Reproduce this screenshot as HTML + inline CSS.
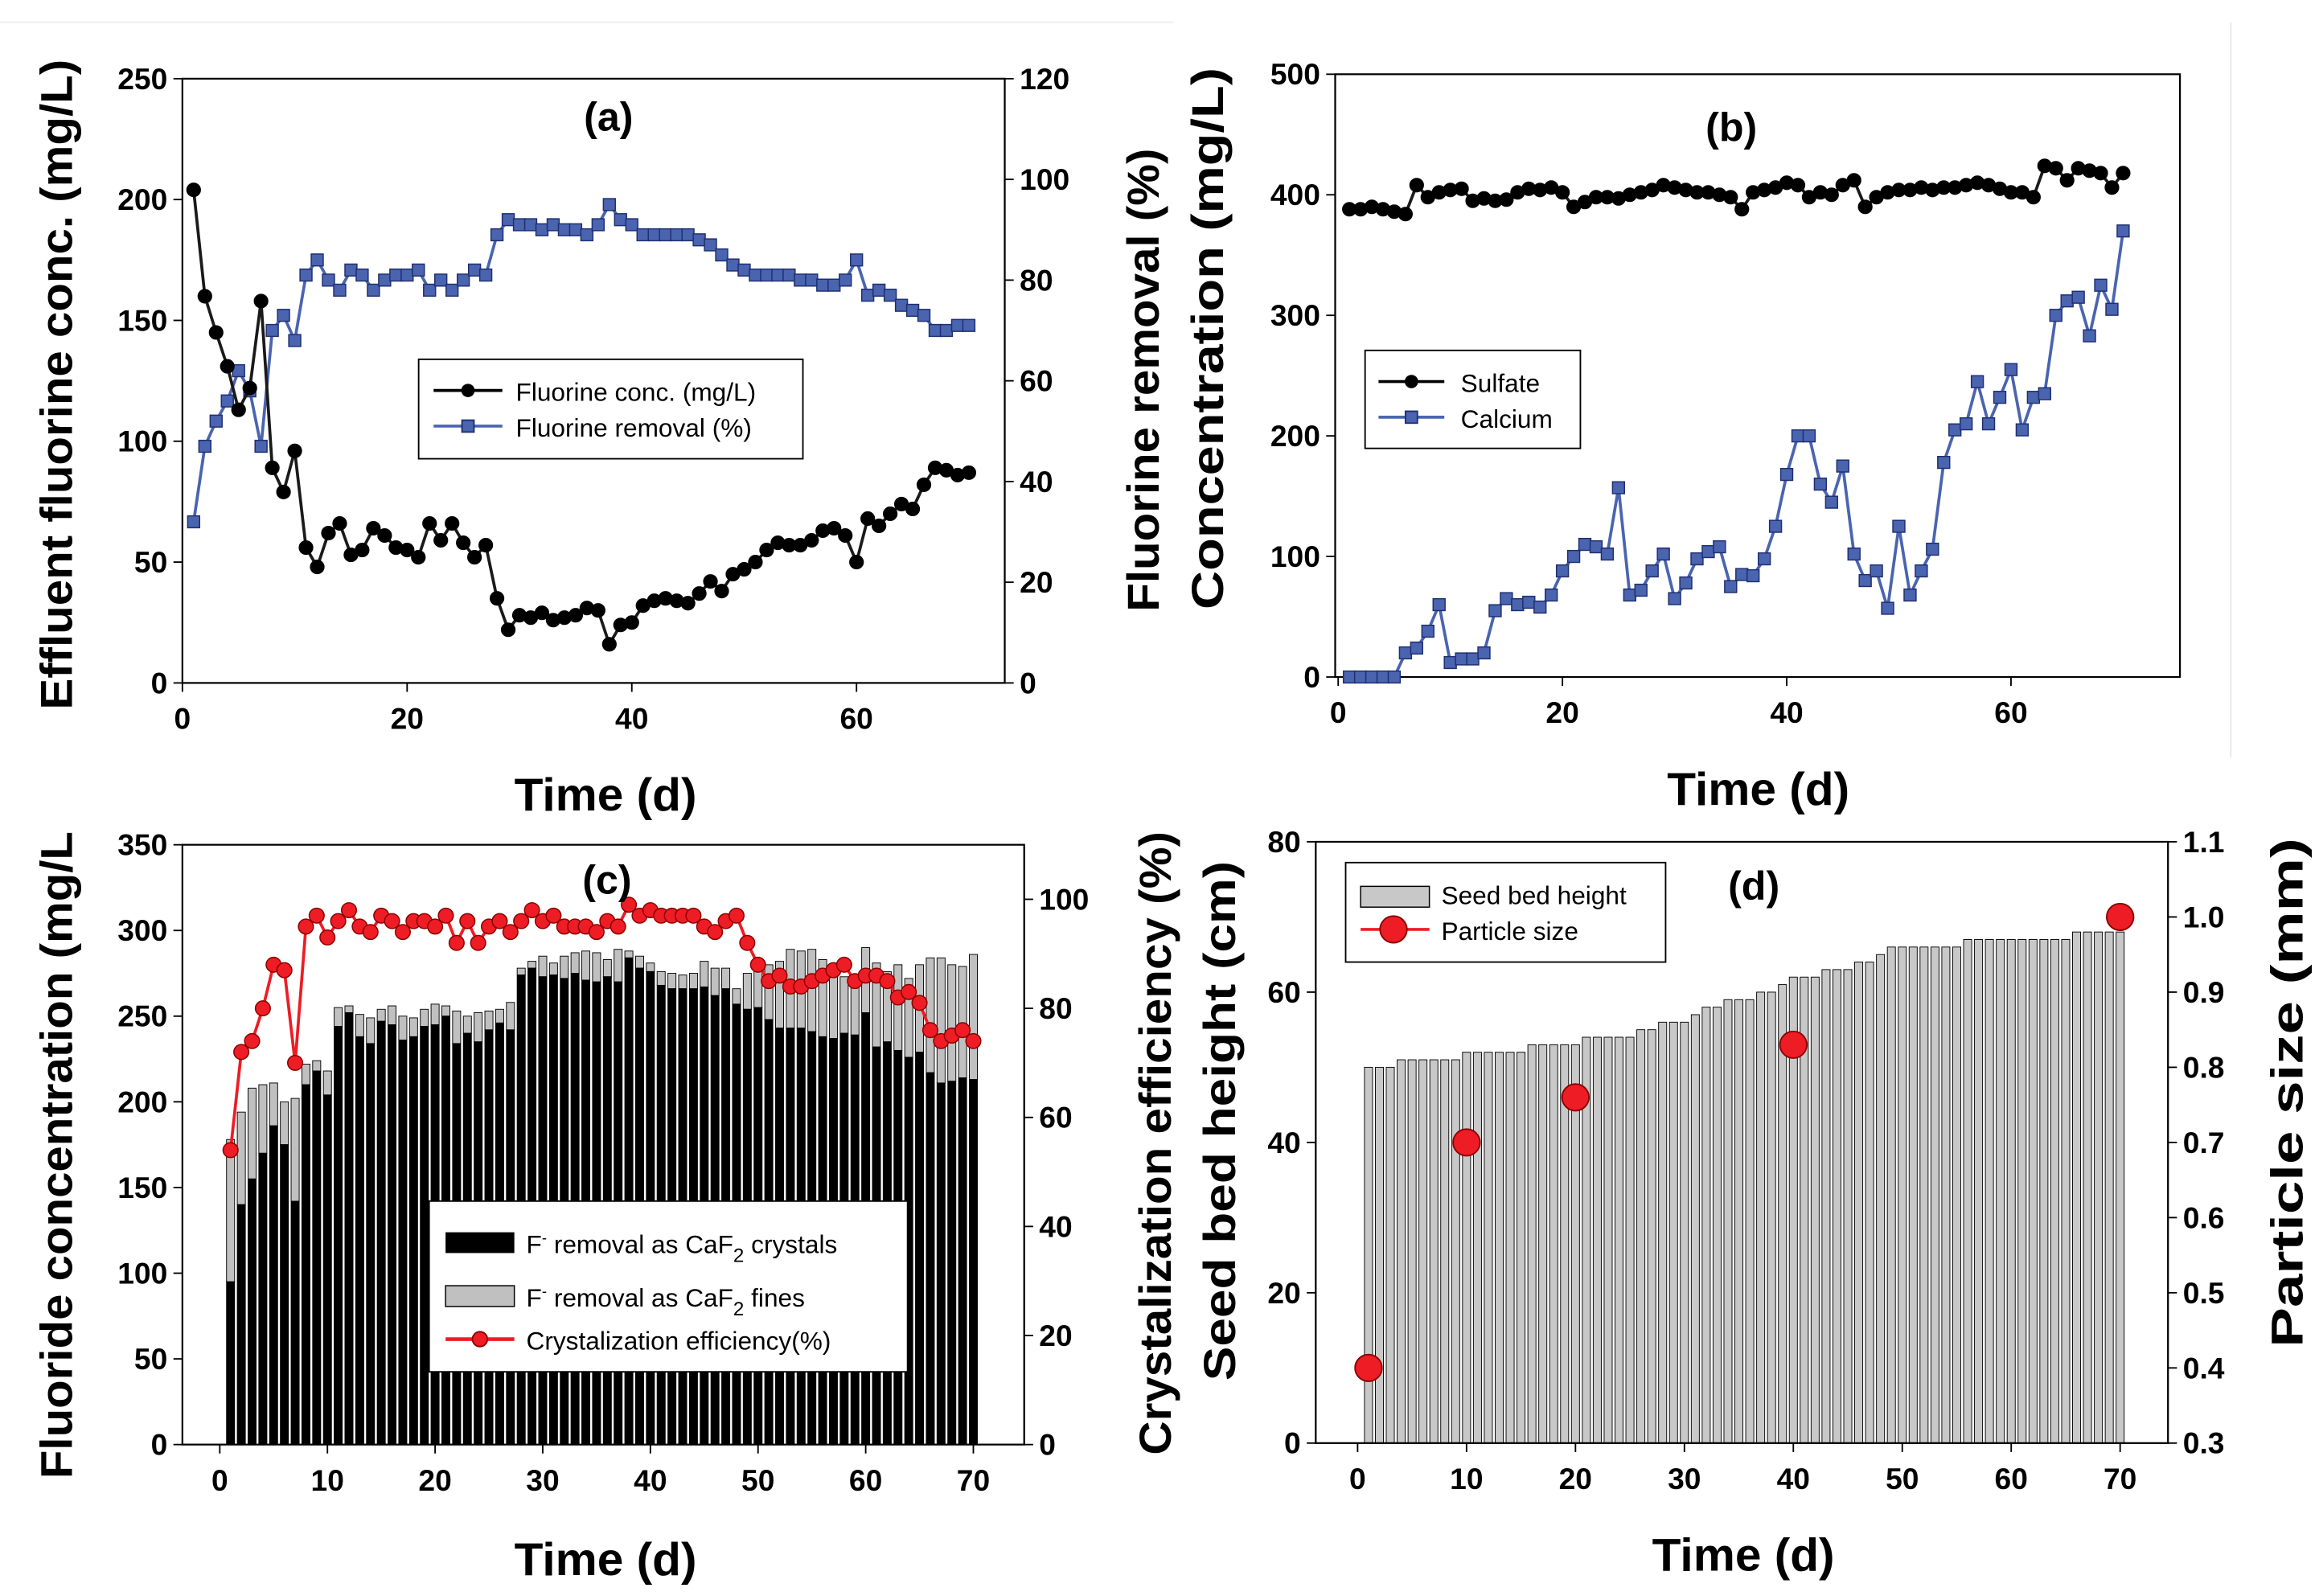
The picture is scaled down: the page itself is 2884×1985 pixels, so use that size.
<!DOCTYPE html>
<html><head><meta charset="utf-8">
<style>
html,body{margin:0;padding:0;background:#fff;}
svg{display:block;font-family:"Liberation Sans",Arial,sans-serif;}
</style></head>
<body>
<svg id="fig" width="2884" height="1985" viewBox="0 0 1551 1075" preserveAspectRatio="none" xmlns="http://www.w3.org/2000/svg">
<line x1="1492" y1="15" x2="1492" y2="510" stroke="#e6e6e6" stroke-width="1"/>
<line x1="0" y1="15" x2="785" y2="15" stroke="#eeeeee" stroke-width="1"/>
</svg>
<script>
const days = Array.from({length:70},(_,i)=>i+1);
// Panel (a)
const fluorConc = [204,160,145,131,113,122,158,89,79,96,56,48,62,66,53,55,64,61,56,55,52,66,59,66,58,52,57,35,22,28,27,29,26,27,28,31,30,16,24,25,32,34,35,34,33,37,42,38,45,47,50,55,58,57,57,59,63,64,61,50,68,65,70,74,72,82,89,88,86,87];
const fluorRemoval = [32,47,52,56,62,58,47,70,73,68,81,84,80,78,82,81,78,80,81,81,82,78,80,78,80,82,81,89,92,91,91,90,91,90,90,89,91,95,92,91,89,89,89,89,89,88,87,85,83,82,81,81,81,81,80,80,79,79,80,84,77,78,77,75,74,73,70,70,71,71];
// Panel (b)
const sulfate = [388,388,390,388,386,384,408,398,402,404,405,395,397,395,396,402,405,404,406,402,390,394,398,398,397,400,402,404,408,406,404,402,402,400,398,388,402,404,406,410,408,398,402,400,408,412,390,398,402,404,404,406,404,406,406,408,410,408,405,402,402,398,424,422,412,422,420,418,406,418];
const calcium = [0,0,0,0,0,20,24,38,60,12,15,15,20,55,65,60,62,58,68,88,100,110,108,102,157,68,72,88,102,65,78,98,104,108,75,85,84,98,125,168,200,200,160,145,175,102,80,88,57,125,68,88,106,178,205,210,245,210,232,255,205,232,235,300,312,315,283,325,305,370];
// Panel (c)
const totalF = [178,194,208,210,211,200,202,222,224,218,255,256,251,249,254,256,250,249,254,257,256,253,250,252,253,254,258,278,282,285,281,285,287,288,287,283,289,288,285,281,276,275,274,275,282,278,278,266,275,279,280,282,289,288,289,283,280,273,270,290,281,276,280,272,280,284,284,280,279,286];
const crystalF = [95,140,155,170,186,175,142,210,218,204,244,252,238,234,247,245,236,238,244,245,250,234,240,235,242,246,242,274,278,273,274,272,275,271,270,273,270,284,278,276,268,266,266,266,267,262,266,257,254,255,248,243,243,243,241,238,237,240,239,252,232,235,230,226,229,217,211,212,214,213];
const crystEff = [54,72,74,80,88,87,70,95,97,93,96,98,95,94,97,96,94,96,96,95,97,92,96,92,95,96,94,96,98,96,97,95,95,95,94,96,95,99,97,98,97,97,97,97,95,94,96,97,92,88,85,86,84,84,85,86,87,88,85,86,86,85,82,83,81,76,74,75,76,74];
// Panel (d)
const seedBed = [50,50,50,51,51,51,51,51,51,52,52,52,52,52,52,53,53,53,53,53,54,54,54,54,54,55,55,56,56,56,57,58,58,59,59,59,60,60,61,62,62,62,63,63,63,64,64,65,66,66,66,66,66,66,66,67,67,67,67,67,67,67,67,67,67,68,68,68,68,68];
const psDays = [1,10,20,40,70];
const psSize = [0.40,0.70,0.76,0.83,1.00];
const ticksA = [0,50,100,150,200,250], ticksAR=[0,20,40,60,80,100,120], ticksA_X=[0,20,40,60];
const ticksB = [0,100,200,300,400,500];
const ticksC = [0,50,100,150,200,250,300,350], ticksCR=[0,20,40,60,80,100], ticksX10=[0,10,20,30,40,50,60,70];
const ticksD = [0,20,40,60,80], ticksDR=[0.3,0.4,0.5,0.6,0.7,0.8,0.9,1.0,1.1];

const svg = document.getElementById('fig');
const NS='http://www.w3.org/2000/svg';
function mk(tag, attrs, parent){const e=document.createElementNS(NS,tag);for(const k in attrs)e.setAttribute(k,attrs[k]);(parent||svg).appendChild(e);return e;}
function txt(x,y,s,size,anchor,rot,parent,len){const e=mk('text',{x:x,y:y,'font-size':size,'font-weight':'bold','text-anchor':anchor||'middle'},parent);if(len){e.setAttribute('textLength',len);e.setAttribute('lengthAdjust','spacingAndGlyphs');}if(rot)e.setAttribute('transform',`rotate(${rot} ${x} ${y})`);e.textContent=s;return e;}
function lin(d0,d1,r0,r1){return v=>r0+(v-d0)*(r1-r0)/(d1-d0);}
function axisL(x,ys,ticks,fmt,g){ticks.forEach(t=>{mk('line',{x1:x-6,x2:x,y1:ys(t),y2:ys(t),stroke:'#000','stroke-width':1},g);const e=txt(x-10,ys(t)+7,fmt?fmt(t):t,20,'end',0,g);});}
function axisR(x,ys,ticks,fmt,g){ticks.forEach(t=>{mk('line',{x1:x,x2:x+6,y1:ys(t),y2:ys(t),stroke:'#000','stroke-width':1},g);const e=txt(x+10,ys(t)+7,fmt?fmt(t):t,20,'start',0,g);});}
function axisB(y,xs,ticks,g){ticks.forEach(t=>{mk('line',{x1:xs(t),x2:xs(t),y1:y,y2:y+6,stroke:'#000','stroke-width':1},g);const e=txt(xs(t),y+31,t,20,'middle',0,g);});}
function frame(x0,y0,x1,y1,g){mk('rect',{x:x0,y:y0,width:x1-x0,height:y1-y0,fill:'none',stroke:'#000','stroke-width':1.2},g);}
function poly(xs,ys,xv,yv,color,marker,g,name){
  const pts=xv.map((v,i)=>xs(v)+','+ys(yv[i])).join(' ');
  const l=mk('polyline',{points:pts,fill:'none',stroke:color,'stroke-width':2},g);
  
  
  xv.forEach((v,i)=>{let m;
    if(marker==='circle') m=mk('circle',{cx:xs(v),cy:ys(yv[i]),r:4.5,fill:'#000',stroke:'#000','stroke-width':0.8},g);
    else if(marker==='red') m=mk('circle',{cx:xs(v),cy:ys(yv[i]),r:5,fill:'#ee1c24',stroke:'#8a0000','stroke-width':0.8},g);
    else m=mk('rect',{x:xs(v)-4,y:ys(yv[i])-4,width:8,height:8,fill:'#4a64b0',stroke:'#1f2f70','stroke-width':0.8},g);
    
    
  });
}

// ---------- Panel a ----------
{const g=mk('g',{});
const xs=lin(0,70,122,648), ys=lin(0,250,460,53), yr=lin(0,120,460,53);
frame(122,53,672,460,g);
axisL(122,ys,ticksA,null,g);axisR(672,yr,ticksAR,null,g);axisB(460,xs,ticksA_X,g);
poly(xs,yr,days,fluorRemoval,'#4a64b0','square',g,'fluorine-removal');
poly(xs,ys,days,fluorConc,'#1a1a1a','circle',g,'fluorine-conc');
let t=txt(407,88,'(a)',27,'middle',0,g);
t=txt(405,546,'Time (d)',31,'middle',0,g,122);
t=txt(48,259,'Effluent fluorine conc. (mg/L)',30,'middle',-90,g,438);
t=txt(775,256,'Fluorine removal (%)',30,'middle',-90,g,312);
const lg=mk('g',{},g);
mk('rect',{x:280,y:242,width:257,height:67,fill:'#fff',stroke:'#000','stroke-width':1},lg);
mk('line',{x1:290,x2:336,y1:263,y2:263,stroke:'#000','stroke-width':2},lg);mk('circle',{cx:313,cy:263,r:4.5,fill:'#000'},lg);
mk('line',{x1:290,x2:336,y1:287,y2:287,stroke:'#4a64b0','stroke-width':2},lg);mk('rect',{x:309,y:283,width:8,height:8,fill:'#4a64b0',stroke:'#1f2f70'},lg);
let e=mk('text',{x:345,y:270,'font-size':17},lg);e.textContent='Fluorine conc. (mg/L)';
e=mk('text',{x:345,y:294,'font-size':17},lg);e.textContent='Fluorine removal (%)';}

// ---------- Panel b ----------
{const g=mk('g',{});
const xs=lin(0,70,895,1420), ys=lin(0,500,456,50);
frame(893,50,1458,456,g);
axisL(893,ys,ticksB,null,g);axisB(456,xs,ticksA_X,g);
poly(xs,ys,days,calcium,'#4a64b0','square',g,'calcium');
poly(xs,ys,days,sulfate,'#1a1a1a','circle',g,'sulfate');
let t=txt(1158,95,'(b)',27,'middle',0,g);
t=txt(1176,542,'Time (d)',31,'middle',0,g,122);
t=txt(818,228,'Concentration (mg/L)',30,'middle',-90,g,365);
const lg=mk('g',{},g);
mk('rect',{x:913,y:236,width:144,height:66,fill:'#fff',stroke:'#000','stroke-width':1},lg);
mk('line',{x1:922,x2:966,y1:257,y2:257,stroke:'#000','stroke-width':2},lg);mk('circle',{cx:944,cy:257,r:4.5,fill:'#000'},lg);
mk('line',{x1:922,x2:966,y1:281,y2:281,stroke:'#4a64b0','stroke-width':2},lg);mk('rect',{x:940,y:277,width:8,height:8,fill:'#4a64b0',stroke:'#1f2f70'},lg);
let e=mk('text',{x:977,y:264,'font-size':17},lg);e.textContent='Sulfate';
e=mk('text',{x:977,y:288,'font-size':17},lg);e.textContent='Calcium';}

// ---------- Panel c ----------
{const g=mk('g',{});
const xs=lin(0,70,147,651), ys=lin(0,350,973,569), yr=lin(0,110,973,569);
const bw=5.4;
days.forEach((d,i)=>{
  const b1=mk('rect',{x:xs(d)-bw/2,y:ys(totalF[i]),width:bw,height:ys(crystalF[i])-ys(totalF[i]),fill:'#c0c0c0',stroke:'#000','stroke-width':0.5},g);
  
  
  const b2=mk('rect',{x:xs(d)-bw/2,y:ys(crystalF[i]),width:bw,height:ys(0)-ys(crystalF[i]),fill:'#000',stroke:'#000','stroke-width':0.5},g);
  
  
});
frame(122,569,685,973,g);
axisL(122,ys,ticksC,null,g);axisR(685,yr,ticksCR,null,g);axisB(973,xs,ticksX10,g);
poly(xs,yr,days,crystEff,'#ee1c24','red',g,'crystallization-efficiency');
let t=txt(406,602,'(c)',27,'middle',0,g);
t=txt(405,1061,'Time (d)',31,'middle',0,g,122);
t=txt(48,778,'Fluoride concentration (mg/L',30,'middle',-90,g,436);
t=txt(783,770,'Crystalization efficiency (%)',30,'middle',-90,g,420);
const lg=mk('g',{},g);
mk('rect',{x:287,y:809,width:320,height:115,fill:'#fff',stroke:'#000','stroke-width':1},lg);
mk('rect',{x:298,y:830,width:46,height:14,fill:'#000'},lg);
mk('rect',{x:298,y:866,width:46,height:14,fill:'#c0c0c0',stroke:'#000','stroke-width':0.8},lg);
mk('line',{x1:298,x2:344,y1:902,y2:902,stroke:'#ee1c24','stroke-width':2.5},lg);mk('circle',{cx:321,cy:902,r:5,fill:'#ee1c24',stroke:'#8a0000'},lg);
let e=mk('text',{x:352,y:844,'font-size':17},lg);e.innerHTML='F<tspan dy="-7" font-size="10">-</tspan><tspan dy="7"> removal as CaF</tspan><tspan dy="6" font-size="13">2</tspan><tspan dy="-6"> crystals</tspan>';
e=mk('text',{x:352,y:880,'font-size':17},lg);e.innerHTML='F<tspan dy="-7" font-size="10">-</tspan><tspan dy="7"> removal as CaF</tspan><tspan dy="6" font-size="13">2</tspan><tspan dy="-6"> fines</tspan>';
e=mk('text',{x:352,y:909,'font-size':17},lg);e.textContent='Crystalization efficiency(%)';}

// ---------- Panel d ----------
{const g=mk('g',{});
const xs=lin(0,70,908,1418), ys=lin(0,80,972,567), yr=lin(0.3,1.1,972,567);
const bw=5.4;
days.forEach((d,i)=>{
  const b=mk('rect',{x:xs(d)-bw/2,y:ys(seedBed[i]),width:bw,height:ys(0)-ys(seedBed[i]),fill:'#c8c8c8',stroke:'#000','stroke-width':0.5},g);
  
  
});
frame(880,567,1450,972,g);
axisL(880,ys,ticksD,null,g);axisR(1450,yr,ticksDR,v=>v.toFixed(1),g);axisB(972,xs,ticksX10,g);
psDays.forEach((d,i)=>{
  const c=mk('circle',{cx:xs(d),cy:yr(psSize[i]),r:9,fill:'#ee1c24',stroke:'#8a0000','stroke-width':1},g);
  
  
});
let t=txt(1173,606,'(d)',27,'middle',0,g);
t=txt(1166,1058,'Time (d)',31,'middle',0,g,122);
t=txt(826,755,'Seed bed height (cm)',30,'middle',-90,g,350);
t=txt(1540,736,'Particle size (mm)',30,'middle',-90,g,343);
const lg=mk('g',{},g);
mk('rect',{x:900,y:581,width:214,height:67,fill:'#fff',stroke:'#000','stroke-width':1},lg);
mk('rect',{x:910,y:597,width:46,height:14,fill:'#c8c8c8',stroke:'#000','stroke-width':0.8},lg);
mk('line',{x1:910,x2:956,y1:626,y2:626,stroke:'#ee1c24','stroke-width':2},lg);mk('circle',{cx:932,cy:626,r:9,fill:'#ee1c24',stroke:'#8a0000'},lg);
let e=mk('text',{x:964,y:609,'font-size':17},lg);e.textContent='Seed bed height';
e=mk('text',{x:964,y:633,'font-size':17},lg);e.textContent='Particle size';}
</script>
</body></html>
